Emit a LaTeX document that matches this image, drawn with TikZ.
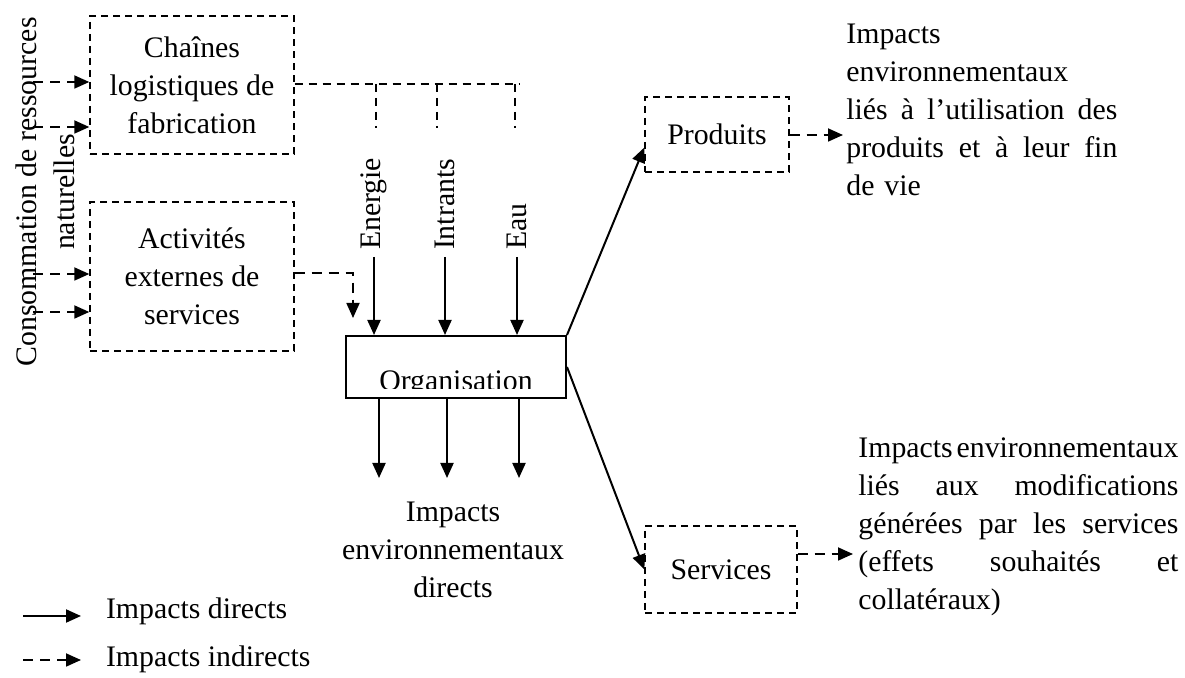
\documentclass[tikz,border=0pt]{standalone}
\usepackage{fontspec}
\setmainfont{Liberation Serif}
\usetikzlibrary{arrows.meta}

\begin{document}
\begin{tikzpicture}[x=0.5pt,y=-0.5pt,
        >={Triangle[length=7.5pt,width=6.5pt]},
        font=\fontsize{14.9}{19}\selectfont,
        dbox/.style={draw,dash pattern=on 3.5pt off 2.5pt,line width=0.7pt,align=center,inner sep=0pt},
        darrow/.style={->,dash pattern=on 5pt off 3.5pt,line width=0.9pt},
        sarrow/.style={->,line width=1pt}]
        \useasboundingbox (0,0) rectangle (1185,678);

        % boxes
        \node[dbox,minimum width=102pt,minimum height=69pt] (CL) at (192,85) {Chaînes\\logistiques de\\fabrication};
        \node[dbox,minimum width=102pt,minimum height=74.5pt] (AE) at (192,276.5) {Activités\\externes de\\services};
        \node[dbox,minimum width=72pt,minimum height=37.5pt] (PR) at (717,134.5) {Produits};
        \node[dbox,minimum width=76pt,minimum height=43.5pt] (SV) at (721,569.5) {Services};
        \node[draw,line width=1pt,minimum width=110pt,minimum height=31pt,inner sep=0pt] (OR) at (456,367) {};
        \begin{scope}
            \clip (OR.north west) rectangle ([yshift=5pt]OR.south east);
            \node[anchor=base] (ORt) at (456,391) {Organisation};
        \end{scope}

        % texts
        \node[rotate=90,align=center] (CR) at (45,192) {Consommation de ressources\\naturelles};
        \node[rotate=90,anchor=west] (EN) at (374,257) {Energie};
        \node[rotate=90,anchor=west] (IN) at (445,257) {Intrants};
        \node[rotate=90,anchor=west] (EA) at (517,257) {Eau};
        \node[anchor=base,align=center] (ID) at (453,598) {Impacts\\environnementaux\\directs};
        \node[anchor=base west,align=left,text width=135.5pt,inner sep=0pt] (TP) at (846,44)
            {Impacts\\environnementaux\\\makebox[135.5pt]{liés\hfill à\hfill l’utilisation\hfill des}\\\makebox[135.5pt]{produits\hfill et\hfill à\hfill leur\hfill fin}\\de vie};
        \node[anchor=base west,align=left,text width=160pt,inner sep=0pt] (TS) at (858,458)
            {\makebox[160pt]{Impacts\hfill environnementaux}\\\makebox[160pt]{liés\hfill aux\hfill modifications}\\\makebox[160pt]{générées\hfill par\hfill les\hfill services}\\\makebox[160pt]{(effets\hfill souhaités\hfill et}\\collatéraux)};

        % legend
        \node[anchor=west] (LD) at (99,611) {Impacts directs};
        \node[anchor=west] (LI) at (99,659) {Impacts indirects};
        \coordinate (ld) at (23,616);
        \coordinate (le) at (81,616);
        \coordinate (li) at (23,660);
        \coordinate (lf) at (81,660);
        \draw[sarrow] (ld) -- (le);
        \draw[darrow] (li) -- (lf);

        % natural resources
        \coordinate (r1) at (33,82);
        \coordinate (r2) at (33,127);
        \coordinate (r3) at (33,274);
        \coordinate (r4) at (33,312);
        \draw[darrow] (r1) -- (r1 -| CL.west);
        \draw[darrow] (r2) -- (r2 -| CL.west);
        \draw[darrow] (r3) -- (r3 -| AE.west);
        \draw[darrow] (r4) -- (r4 -| AE.west);

        % supply chain feeds
        \coordinate (f0) at (520,84);
        \coordinate (f1) at (376,128);
        \coordinate (f2) at (437,128);
        \coordinate (f3) at (515,128);
        \draw[dash pattern=on 4pt off 3pt,line width=0.7pt] (CL.east |- f0) -- (f0);
        \draw[dash pattern=on 4pt off 3pt,line width=0.7pt] (f1 |- f0) -- (f1);
        \draw[dash pattern=on 4pt off 3pt,line width=0.7pt] (f2 |- f0) -- (f2);
        \draw[dash pattern=on 4pt off 3pt,line width=0.7pt] (f3 |- f0) -- (f3);

        % external services
        \coordinate (s1) at (353,273);
        \coordinate (s2) at (353,318);
        \draw[darrow] (AE.east |- s1) -- (s1) -- (s2);

        % inputs
        \draw[sarrow] (EN.west) -- (EN.west |- OR.north);
        \draw[sarrow] (IN.west) -- (IN.west |- OR.north);
        \draw[sarrow] (EA.west) -- (EA.west |- OR.north);

        % direct impacts
        \coordinate (d1) at (379,478);
        \coordinate (d2) at (447,478);
        \coordinate (d3) at (519,478);
        \draw[sarrow] (d1 |- OR.south) -- (d1);
        \draw[sarrow] (d2 |- OR.south) -- (d2);
        \draw[sarrow] (d3 |- OR.south) -- (d3);

        % products and services
        \draw[sarrow] (OR.north east) -- ([yshift=-6.5pt]PR.west);
        \draw[sarrow] (OR.east) -- (SV.west);
        \coordinate (p1) at (843,135);
        \coordinate (q1) at (853,554);
        \draw[darrow] (PR.east |- p1) -- (p1);
        \draw[darrow] (SV.east |- q1) -- (q1);
\end{tikzpicture}
\end{document}
